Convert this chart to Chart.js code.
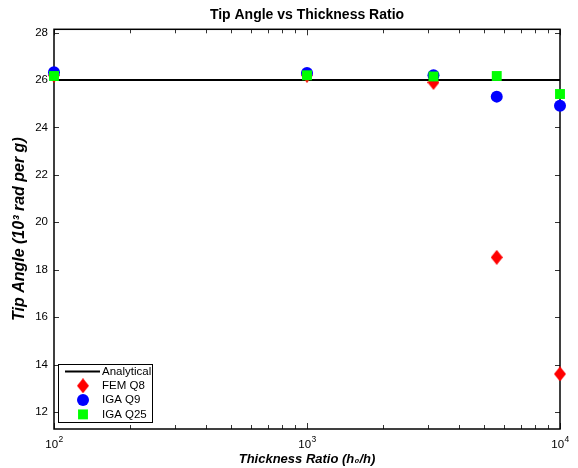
<!DOCTYPE html>
<html>
<head>
<meta charset="utf-8">
<script src="https://cdn.jsdelivr.net/npm/chart.js@4/dist/chart.umd.min.js"></script>
<style>
  html, body { margin: 0; padding: 0; background: #fff; }
  #wrap { width: 578px; height: 468px; }
</style>
</head>
<body>
<div id="wrap"><canvas id="chart" width="578" height="468"></canvas></div>
<script>
// thickness ratios h0/h
const ratios = [100, 1000, 3162, 5623, 10000];
const analyticalX = [100, 10000];
const analyticalY = [26, 26];
const femQ8 = [26.2, 26.2, 25.9, 18.52, 13.6];
const igaQ9 = [26.33, 26.3, 26.2, 25.3, 24.92];
const igaQ25 = [26.17, 26.2, 26.15, 26.17, 25.41];

const yTicks = [12, 14, 16, 18, 20, 22, 24, 26, 28];
const xMajor = [100, 1000, 10000];
const xExponents = ['2', '3', '4'];

const FONT = '"Liberation Sans", Arial, Helvetica, sans-serif';

function pts(xs, ys) {
  return xs.map((x, i) => ({ x, y: ys[i] }));
}

const xAllTicks = [];
[100, 1000].forEach(d => { for (let k = 1; k < 10; k++) xAllTicks.push(d * k); });
xAllTicks.push(10000);

// matlab diamond is a bit taller than wide
function diamondMarker(w, h, color) {
  const c = document.createElement('canvas');
  c.width = w; c.height = h;
  const g = c.getContext('2d');
  g.fillStyle = color;
  g.beginPath();
  g.moveTo(w / 2, 0); g.lineTo(w, h / 2); g.lineTo(w / 2, h); g.lineTo(0, h / 2);
  g.closePath();
  g.fill();
  return c;
}
const diamond = diamondMarker(12, 15, '#ff0000');

// frame + inward tick marks (matlab style box)
const framePlugin = {
  id: 'frame',
  beforeDatasetsDraw(chart) {
    const { ctx, chartArea: a, scales: { x, y } } = chart;
    ctx.save();
    ctx.strokeStyle = '#333';
    ctx.lineWidth = 1;
    ctx.beginPath();
    xAllTicks.forEach(v => {
      const px = Math.round(x.getPixelForValue(v)) + 0.5;
      const len = xMajor.includes(v) ? 6 : 4;
      ctx.moveTo(px, a.bottom); ctx.lineTo(px, a.bottom - len);
      ctx.moveTo(px, a.top); ctx.lineTo(px, a.top + len);
    });
    yTicks.forEach(v => {
      const py = Math.round(y.getPixelForValue(v)) + 0.5;
      ctx.moveTo(a.left, py); ctx.lineTo(a.left + 5, py);
      ctx.moveTo(a.right, py); ctx.lineTo(a.right - 5, py);
    });
    ctx.stroke();
    ctx.strokeStyle = '#000';
    ctx.lineWidth = 1.5;
    ctx.strokeRect(a.left, a.top, a.right - a.left, a.bottom - a.top);

    // 10^n labels with a real raised exponent
    ctx.fillStyle = '#000';
    ctx.textBaseline = 'alphabetic';
    xMajor.forEach((v, i) => {
      const px = x.getPixelForValue(v);
      ctx.font = '11.5px ' + FONT;
      const wb = ctx.measureText('10').width;
      ctx.font = '8.5px ' + FONT;
      const we = ctx.measureText(xExponents[i]).width;
      const x0 = px - (wb + we) / 2;
      ctx.font = '11.5px ' + FONT;
      ctx.textAlign = 'left';
      ctx.fillText('10', x0, a.bottom + 19);
      ctx.font = '8.5px ' + FONT;
      ctx.fillText(xExponents[i], x0 + wb + 0.5, a.bottom + 13);
    });
    ctx.restore();
  }
};

// legend box inside plot, lower left
const legendPlugin = {
  id: 'boxLegend',
  afterDraw(chart) {
    const { ctx, chartArea: a } = chart;
    const bx = a.left + 4, by = a.bottom - 65, bw = 94, bh = 58;
    ctx.save();
    ctx.fillStyle = '#fff';
    ctx.fillRect(bx, by, bw, bh);
    ctx.strokeStyle = '#000';
    ctx.lineWidth = 1;
    ctx.strokeRect(bx + 0.5, by + 0.5, bw, bh);
    ctx.font = '11.5px ' + FONT;
    ctx.textBaseline = 'middle';
    chart.data.datasets.forEach((ds, i) => {
      const yy = by + 7.5 + i * 14.3;
      if (ds.showLine) {
        ctx.strokeStyle = ds.borderColor;
        ctx.lineWidth = 2;
        ctx.beginPath();
        ctx.moveTo(bx + 7, yy); ctx.lineTo(bx + 42, yy);
        ctx.stroke();
      } else {
        ctx.fillStyle = ds.backgroundColor;
        ctx.strokeStyle = ds.backgroundColor;
        Chart.helpers.drawPoint(ctx, {
          pointStyle: ds.pointStyle, radius: ds.pointRadius, rotation: 0, borderWidth: 0
        }, bx + 25, yy);
      }
      ctx.fillStyle = '#000';
      ctx.fillText(ds.label, bx + 44, yy);
    });
    ctx.restore();
  }
};

new Chart(document.getElementById('chart'), {
  type: 'scatter',
  data: {
    datasets: [
      {
        label: 'Analytical',
        data: pts(analyticalX, analyticalY),
        showLine: true,
        borderColor: '#000',
        backgroundColor: '#000',
        borderWidth: 2,
        pointRadius: 0,
        order: 4
      },
      {
        label: 'FEM Q8',
        data: pts(ratios, femQ8),
        pointStyle: diamond,
        pointRadius: 7,
        backgroundColor: '#ff0000',
        borderColor: '#ff0000',
        borderWidth: 0,
        order: 3
      },
      {
        label: 'IGA Q9',
        data: pts(ratios, igaQ9),
        pointStyle: 'circle',
        pointRadius: 6,
        backgroundColor: '#0000ff',
        borderColor: '#0000ff',
        borderWidth: 0,
        order: 2
      },
      {
        label: 'IGA Q25',
        data: pts(ratios, igaQ25),
        pointStyle: 'rect',
        pointRadius: 7,
        backgroundColor: '#00ff00',
        borderColor: '#00ff00',
        borderWidth: 0,
        order: 1
      }
    ]
  },
  options: {
    responsive: false,
    animation: false,
    clip: false,
    layout: { padding: { left: 0, right: 18, top: 0, bottom: 0 } },
    plugins: {
      legend: { display: false },
      tooltip: { enabled: false },
      title: {
        display: true,
        fullSize: false,
        text: 'Tip Angle vs Thickness Ratio',
        color: '#000',
        font: { family: FONT, size: 14, weight: 'bold' },
        padding: { top: 6.6, bottom: 5.9 }
      }
    },
    scales: {
      x: {
        type: 'logarithmic',
        min: 100,
        max: 10000,
        afterBuildTicks: s => { s.ticks = xAllTicks.map(v => ({ value: v })); },
        afterFit: s => { s.height = 39; },
        grid: { display: false, drawTicks: false },
        border: { display: false },
        ticks: { display: false },
        title: {
          display: true,
          text: 'Thickness Ratio (h₀/h)',
          color: '#000',
          font: { family: FONT, size: 13, weight: 'bold', style: 'italic' },
          padding: { top: 0, bottom: 1.2 }
        }
      },
      y: {
        min: 11.28,
        max: 28.14,
        afterBuildTicks: s => { s.ticks = yTicks.map(v => ({ value: v })); },
        afterFit: s => { s.width = 54; },
        grid: { display: false, drawTicks: false },
        border: { display: false },
        ticks: {
          padding: 6,
          color: '#000',
          font: { family: FONT, size: 11.5 }
        },
        title: {
          display: true,
          text: 'Tip Angle (10³ rad per g)',
          color: '#000',
          font: { family: FONT, size: 16, weight: 'bold', style: 'italic' },
          padding: { top: 10.4, bottom: 0 }
        }
      }
    }
  },
  plugins: [framePlugin, legendPlugin]
});
</script>
</body>
</html>
